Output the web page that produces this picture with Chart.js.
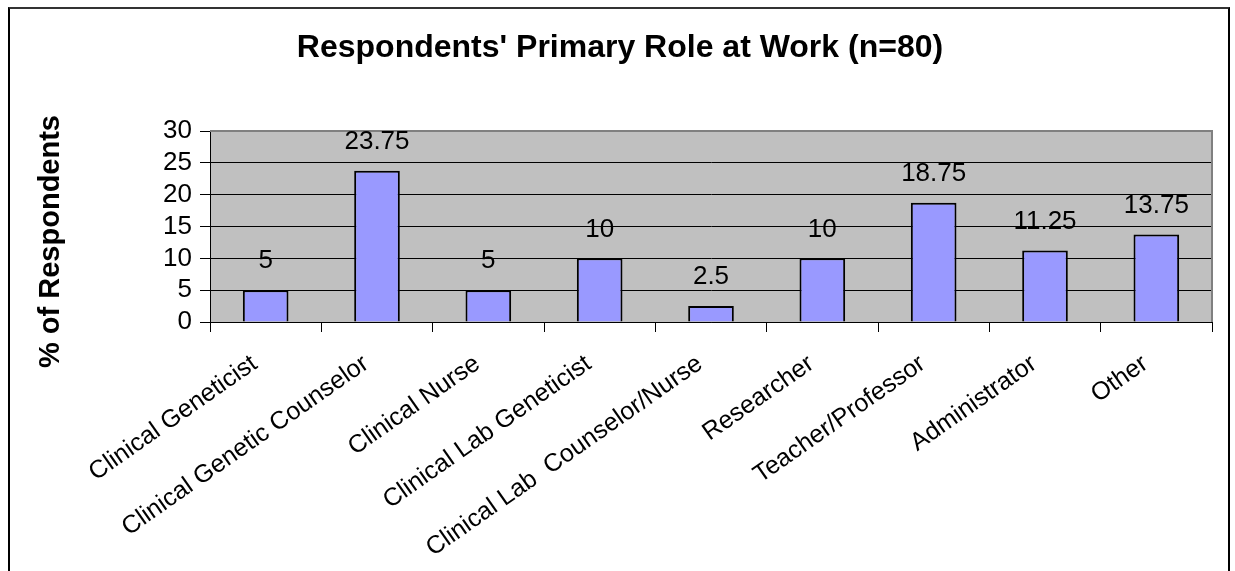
<!DOCTYPE html>
<html>
<head>
<meta charset="utf-8">
<script src="https://cdn.jsdelivr.net/npm/chart.js@4.4.1/dist/chart.umd.min.js"></script>
<style>
  html, body { margin: 0; padding: 0; background: #fff; overflow: hidden; }
  #wrap { position: relative; width: 1235px; height: 571px; }
  #frame {
    position: absolute; left: 8px; top: 7px; width: 1222px; height: 620px;
    border: 2px solid #000; border-top-color: #333; box-sizing: border-box;
  }
  #chartBox { position: absolute; left: 0; top: 0; width: 1235px; height: 571px; }
</style>
</head>
<body>
<div id="wrap">
  <div id="frame"></div>
  <div id="chartBox"><canvas id="roleChart"></canvas></div>
</div>
<script>
// Dados do gráfico
const roles = [
  "Clinical Geneticist",
  "Clinical Genetic Counselor",
  "Clinical Nurse",
  "Clinical Lab Geneticist",
  "Clinical Lab  Counselor/Nurse",
  "Researcher",
  "Teacher/Professor",
  "Administrator",
  "Other",
];
const percentValues = [5, 23.75, 5, 10, 2.5, 10, 18.75, 11.25, 13.75];
const yTicks = [0, 5, 10, 15, 20, 25, 30];
const yTitle = "% of Respondents";

const FONT = "'Liberation Sans', Arial, sans-serif";

// Fundo cinza da área do gráfico + borda cinza
const plotBackground = {
  id: "plotBackground",
  beforeDraw(chart) {
    const { ctx, chartArea: a } = chart;
    ctx.save();
    ctx.fillStyle = "#C0C0C0";
    ctx.fillRect(a.left, a.top, a.right - a.left, a.bottom - a.top);
    ctx.restore();
  },
  beforeDatasetsDraw(chart) {
    const { ctx, chartArea: a } = chart;
    ctx.save();
    ctx.strokeStyle = "#808080";
    ctx.lineWidth = 2;
    ctx.beginPath();
    ctx.moveTo(a.left, a.top);
    ctx.lineTo(a.right, a.top);
    ctx.lineTo(a.right, a.bottom);
    ctx.stroke();
    ctx.restore();
  },
  afterDraw(chart) {
    // título do eixo Y (um pouco abaixo do centro, como no original)
    const { ctx, chartArea: a } = chart;
    ctx.save();
    ctx.translate(51, (a.top + a.bottom) / 2 + 15);
    ctx.rotate(-Math.PI / 2);
    ctx.font = "bold 29px " + FONT;
    ctx.fillStyle = "#000";
    ctx.textAlign = "center";
    ctx.textBaseline = "middle";
    ctx.fillText(yTitle, 0, 0);
    ctx.restore();
  },
};

// Rótulos de valor acima das barras
const valueLabels = {
  id: "valueLabels",
  afterDatasetsDraw(chart) {
    const { ctx } = chart;
    const meta = chart.getDatasetMeta(0);
    ctx.save();
    ctx.font = "26px " + FONT;
    ctx.fillStyle = "#000";
    ctx.textAlign = "center";
    ctx.textBaseline = "middle";
    meta.data.forEach((bar, i) => {
      ctx.fillText(String(percentValues[i]), bar.x, bar.y - 29);
    });
    ctx.restore();
  },
};

const ctx = document.getElementById("roleChart");
new Chart(ctx, {
  type: "bar",
  data: {
    labels: roles,
    datasets: [
      {
        data: percentValues,
        backgroundColor: "#9999FF",
        borderColor: "#000",
        borderWidth: 2,
        barPercentage: 0.41,
        categoryPercentage: 1,
      },
    ],
  },
  options: {
    responsive: true,
    maintainAspectRatio: false,
    animation: false,
    layout: { padding: { top: 0, left: 28, right: 23, bottom: 0 } },
    plugins: {
      legend: { display: false },
      tooltip: { enabled: false },
      title: {
        display: true,
        text: "Respondents' Primary Role at Work (n=80)",
        color: "#000",
        font: { family: FONT, size: 32, weight: "bold" },
        padding: { top: 29, bottom: 63.6 },
      },
    },
    scales: {
      x: {
        afterFit(scale) {
          scale.height = 249;
        },
        border: { display: true, color: "#000", width: 1 },
        grid: {
          display: true,
          drawOnChartArea: false,
          drawTicks: true,
          tickLength: 10,
          color: "#000",
        },
        ticks: {
          autoSkip: false,
          maxRotation: 35,
          minRotation: 35,
          padding: 17,
          labelOffset: -11,
          color: "#000",
          font: { family: FONT, size: 25 },
        },
      },
      y: {
        min: 0,
        max: 30,
        afterFit(scale) {
          scale.width = 182;
        },
        afterBuildTicks(scale) {
          scale.ticks = yTicks.map((v) => ({ value: v }));
        },
        border: { display: true, color: "#000", width: 1 },
        grid: {
          color: (c) => (c.tick && c.tick.value === 30 ? "#808080" : "#000"),
          tickColor: "#000",
          tickLength: 10,
          lineWidth: 1,
        },
        ticks: {
          autoSkip: false,
          padding: 8,
          color: "#000",
          font: { family: FONT, size: 26 },
        },
      },
    },
  },
  plugins: [plotBackground, valueLabels],
});
</script>
</body>
</html>
